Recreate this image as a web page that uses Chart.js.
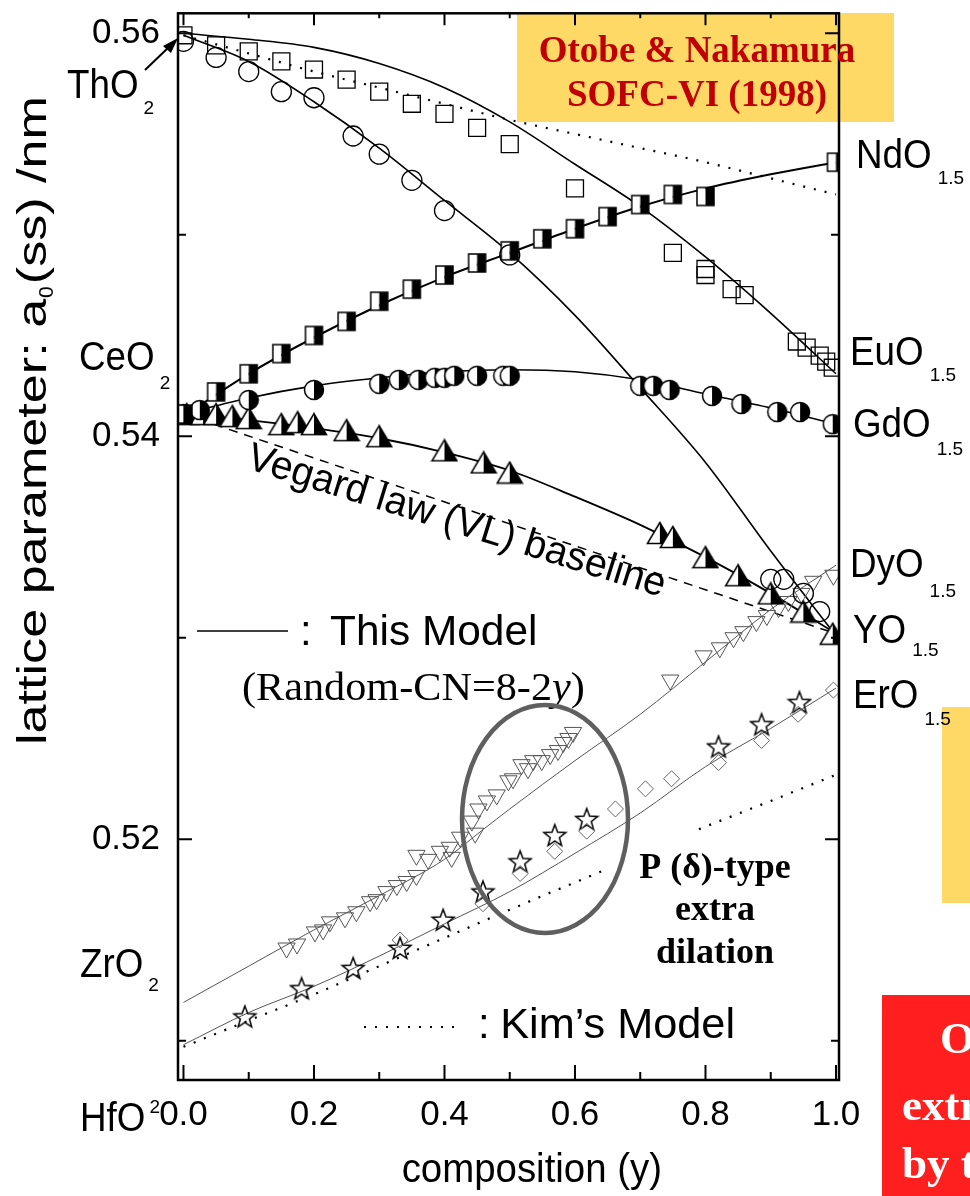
<!DOCTYPE html>
<html>
<head>
<meta charset="utf-8">
<script src="https://cdn.jsdelivr.net/npm/chart.js@4.4.1/dist/chart.umd.min.js"></script>
<style>
    html, body { margin: 0; padding: 0; background: #fff; }
    #c { display: block; }
</style>
</head>
<body>
<canvas id="c" width="970" height="1196"></canvas>
<script>
// 坐标轴刻度
const xTickValues = [0, 0.1, 0.2, 0.3, 0.4, 0.5, 0.6, 0.7, 0.8, 0.9, 1.0];
const xTickLabels = ["0.0", "", "0.2", "", "0.4", "", "0.6", "", "0.8", "", "1.0"];
const yTickValues = [0.51, 0.52, 0.53, 0.54, 0.55, 0.56];
const yTickLabels = ["", "0.52", "", "0.54", "", "0.56"];

// 模型曲线的 x 网格
const modelX = [0, 0.1, 0.2, 0.3, 0.4, 0.5, 0.6, 0.7, 0.8, 0.9, 1.0];

// ThO2-EuO1.5 (open squares)
const thEuX = [0, 0.05, 0.1, 0.15, 0.2, 0.25, 0.3, 0.35, 0.4, 0.45, 0.5, 0.6, 0.75, 0.8, 0.8, 0.84, 0.86, 0.94, 0.955, 0.975, 0.985, 0.995];
const thEuY = [0.5599, 0.5594, 0.5591, 0.5586, 0.5582, 0.5577, 0.5571, 0.5565, 0.5560, 0.5553, 0.5545, 0.5523, 0.5491, 0.5483, 0.5480, 0.5473, 0.5470, 0.5447, 0.5444, 0.5440, 0.5437, 0.5434];
const thEuModel = [0.5600, 0.5597, 0.5593, 0.5585, 0.5573, 0.5556, 0.5535, 0.5514, 0.5489, 0.5461, 0.5431];
const thEuKim = [0.5599, 0.5590, 0.5581, 0.5573, 0.5565, 0.5557, 0.5550, 0.5543, 0.5536, 0.5528, 0.5520];

// ThO2-YO1.5 (open circles)
const thYX = [0, 0.05, 0.1, 0.15, 0.2, 0.26, 0.3, 0.35, 0.4, 0.5, 0.9, 0.92, 0.95, 0.975];
const thYY = [0.5596, 0.5588, 0.5581, 0.5571, 0.5568, 0.5549, 0.5540, 0.5527, 0.5512, 0.5490, 0.5329, 0.5329, 0.5322, 0.5313];
const thYModel = [0.5599, 0.5586, 0.5566, 0.5543, 0.5517, 0.5491, 0.5460, 0.5424, 0.5387, 0.5343, 0.5301];

// CeO2-NdO1.5 (half squares)
const ceNdX = [0, 0.05, 0.1, 0.15, 0.2, 0.25, 0.3, 0.35, 0.4, 0.45, 0.5, 0.55, 0.6, 0.65, 0.7, 0.75, 0.8, 1.0];
const ceNdY = [0.5411, 0.5422, 0.5431, 0.5441, 0.5450, 0.5457, 0.5467, 0.5473, 0.5480, 0.5486, 0.5492, 0.5498, 0.5503, 0.5509, 0.5515, 0.5520, 0.5519, 0.5536];
const ceNdModel = [0.5410, 0.5431, 0.5449, 0.5465, 0.5479, 0.5491, 0.5503, 0.5514, 0.5523, 0.5530, 0.5536];

// CeO2-GdO1.5 (half circles)
const ceGdX = [0, 0.025, 0.1, 0.2, 0.3, 0.33, 0.36, 0.385, 0.4, 0.415, 0.45, 0.49, 0.5, 0.7, 0.72, 0.745, 0.81, 0.855, 0.91, 0.945, 0.995];
const ceGdY = [0.5411, 0.5413, 0.5418, 0.5423, 0.5426, 0.5428, 0.5428, 0.5429, 0.5429, 0.5430, 0.5430, 0.5430, 0.5430, 0.5425, 0.5425, 0.5423, 0.5420, 0.5416, 0.5412, 0.5412, 0.5406];
const ceGdModel = [0.5411, 0.5419, 0.5425, 0.5429, 0.5432, 0.5433, 0.5432, 0.5428, 0.5421, 0.5414, 0.5406];

// CeO2-YO1.5 (half triangles)
const ceYX = [0.005, 0.03, 0.05, 0.075, 0.1, 0.15, 0.175, 0.2, 0.25, 0.3, 0.4, 0.46, 0.5, 0.73, 0.75, 0.8, 0.85, 0.9, 0.95, 0.995];
const ceYY = [0.5411, 0.5411, 0.5411, 0.5410, 0.5409, 0.5406, 0.5407, 0.5406, 0.5403, 0.5400, 0.5393, 0.5387, 0.5382, 0.5352, 0.5350, 0.5340, 0.5331, 0.5322, 0.5313, 0.5302];
const ceYModel = [0.5411, 0.5408, 0.5404, 0.5399, 0.5392, 0.5383, 0.5370, 0.5356, 0.5340, 0.5322, 0.5302];

// Vegard law baseline (CeO2 -> YO1.5)
const vegardX = [0, 1.0];
const vegardY = [0.5411, 0.5302];

// ZrO2-DyO1.5 (inverted triangles)
const zrDyX = [0.158, 0.174, 0.2015, 0.214, 0.2245, 0.2475, 0.265, 0.286, 0.296, 0.311, 0.327, 0.342, 0.357, 0.357, 0.375, 0.393, 0.408, 0.411, 0.424, 0.442, 0.447, 0.452, 0.465, 0.48, 0.498, 0.505, 0.518, 0.528, 0.536, 0.549, 0.562, 0.574, 0.582, 0.59, 0.597, 0.746, 0.797, 0.822, 0.843, 0.858, 0.878, 0.894, 0.912, 0.927, 0.947, 0.965, 0.996];
const zrDyY = [0.5146, 0.5148, 0.5154, 0.5155, 0.5159, 0.5161, 0.5164, 0.5169, 0.5170, 0.5174, 0.5177, 0.5179, 0.5182, 0.5192, 0.5190, 0.5194, 0.5196, 0.5191, 0.5201, 0.5209, 0.5203, 0.5215, 0.5219, 0.5222, 0.5229, 0.5230, 0.5237, 0.5235, 0.5239, 0.5239, 0.5242, 0.5244, 0.5248, 0.5250, 0.5253, 0.5279, 0.5291, 0.5295, 0.5300, 0.5303, 0.5308, 0.5311, 0.5315, 0.5318, 0.5322, 0.5328, 0.5331];
const zrDyModelX = [0, 0.1, 0.2, 0.3, 0.4, 0.46, 0.5, 0.6, 0.7, 0.8, 0.9, 1.0];
const zrDyModel = [0.5119, 0.5137, 0.5155, 0.5172, 0.5190, 0.5205, 0.5215, 0.5239, 0.5262, 0.5288, 0.5314, 0.5336];

// HfO2-ErO1.5 (stars) and ZrO2-ErO1.5 (diamonds)
const hfErX = [0.094, 0.181, 0.26, 0.332, 0.398, 0.459, 0.516, 0.569, 0.618, 0.82, 0.886, 0.944];
const hfErY = [0.5112, 0.5126, 0.5136, 0.5146, 0.5160, 0.5174, 0.5189, 0.5202, 0.5210, 0.5246, 0.5257, 0.5268];
const zrErX = [0.332, 0.459, 0.516, 0.569, 0.618, 0.662, 0.708, 0.748, 0.82, 0.886, 0.942, 0.996];
const zrErY = [0.5150, 0.5168, 0.5183, 0.5194, 0.5204, 0.5215, 0.5225, 0.5230, 0.5238, 0.5249, 0.5262, 0.5274];
const erModel = [0.5098, 0.5114, 0.5127, 0.5142, 0.5158, 0.5174, 0.5193, 0.5213, 0.5236, 0.5255, 0.5275];

// Kim's model (HfO2-ErO1.5), gap where the curve is not drawn
const hfKimX = [0, 0.1, 0.2, 0.3, 0.4, 0.5, 0.64, 0.71, 0.79, 0.9, 1.0];
const hfKimY = [0.5097, 0.5110, 0.5123, 0.5137, 0.5151, 0.5165, 0.5184, null, 0.5205, 0.5219, 0.5232];

const SANS = '"Liberation Sans", Arial, sans-serif';
const SERIF = '"Liberation Serif", "Times New Roman", serif';

function pts(xs, ys) {
    return xs.map((x, i) => ({ x: x, y: ys[i] }));
}

// 自定义标记：半填充方块/圆/三角形和五角星
function markerCanvas(w, h, draw) {
    const c = document.createElement("canvas");
    c.width = w;
    c.height = h;
    draw(c.getContext("2d"), w, h);
    return c;
}

const halfSquare = markerCanvas(21, 22, (g) => {
    g.fillStyle = "#fff";
    g.fillRect(2, 2, 8.5, 18);
    g.fillStyle = "#000";
    g.fillRect(10.5, 2, 8.5, 18);
    g.strokeStyle = "#000";
    g.lineWidth = 1.5;
    g.strokeRect(2, 2, 17, 18);
});

const halfCircle = markerCanvas(22, 22, (g) => {
    g.beginPath();
    g.arc(11, 11, 9.5, 0, Math.PI * 2);
    g.fillStyle = "#fff";
    g.fill();
    g.beginPath();
    g.arc(11, 11, 9.5, -Math.PI / 2, Math.PI / 2);
    g.closePath();
    g.fillStyle = "#000";
    g.fill();
    g.beginPath();
    g.arc(11, 11, 9.5, 0, Math.PI * 2);
    g.strokeStyle = "#000";
    g.lineWidth = 1.5;
    g.stroke();
});

const halfTriangle = markerCanvas(28, 24, (g) => {
    g.beginPath();
    g.moveTo(14, 1.5);
    g.lineTo(1.5, 22.5);
    g.lineTo(26.5, 22.5);
    g.closePath();
    g.fillStyle = "#fff";
    g.fill();
    g.beginPath();
    g.moveTo(14, 1.5);
    g.lineTo(14, 22.5);
    g.lineTo(26.5, 22.5);
    g.closePath();
    g.fillStyle = "#000";
    g.fill();
    g.beginPath();
    g.moveTo(14, 1.5);
    g.lineTo(1.5, 22.5);
    g.lineTo(26.5, 22.5);
    g.closePath();
    g.strokeStyle = "#000";
    g.lineWidth = 1.5;
    g.stroke();
});

const openStar = markerCanvas(26, 26, (g) => {
    g.beginPath();
    for (let k = 0; k < 10; k++) {
        const r = k % 2 === 0 ? 11.5 : 4.8;
        const a = -Math.PI / 2 + (k * Math.PI) / 5;
        const px = 13 + r * Math.cos(a);
        const py = 14 + r * Math.sin(a);
        if (k === 0) g.moveTo(px, py);
        else g.lineTo(px, py);
    }
    g.closePath();
    g.strokeStyle = "#000";
    g.lineWidth = 1.5;
    g.stroke();
});

function markerSet(data, style, radius, extra) {
    return Object.assign({
        data: data,
        pointStyle: style,
        pointRadius: radius,
        pointBackgroundColor: "rgba(0,0,0,0)",
        pointBorderColor: "#000",
        pointBorderWidth: 1.3,
        showLine: false,
        order: 1,
    }, extra || {});
}

function lineSet(data, color, width, dash, extra) {
    return Object.assign({
        data: data,
        showLine: true,
        pointRadius: 0,
        borderColor: color,
        borderWidth: width,
        borderDash: dash,
        cubicInterpolationMode: "monotone",
        spanGaps: false,
        order: 2,
    }, extra || {});
}

const datasets = [
    markerSet(pts(thEuX, thEuY), "rect", 12),
    markerSet(pts(thYX, thYY), "circle", 10),
    markerSet(pts(ceNdX, ceNdY), halfSquare, 10),
    markerSet(pts(ceGdX, ceGdY), halfCircle, 10),
    markerSet(pts(ceYX, ceYY), halfTriangle, 10),
    markerSet(pts(zrDyX, zrDyY), "triangle", 10, { pointRotation: 180, pointBorderColor: "#555", pointBorderWidth: 1 }),
    markerSet(pts(zrErX, zrErY), "rectRot", 8, { pointBorderColor: "#666", pointBorderWidth: 1 }),
    markerSet(pts(hfErX, hfErY), openStar, 10),
    lineSet(pts(modelX, thEuModel), "#000", 1.6, []),
    lineSet(pts(modelX, thEuKim), "#000", 2.2, [2, 9]),
    lineSet(pts(modelX, thYModel), "#000", 1.6, []),
    lineSet(pts(modelX, ceNdModel), "#000", 2, []),
    lineSet(pts(modelX, ceGdModel), "#000", 1.6, []),
    lineSet(pts(modelX, ceYModel), "#000", 1.8, []),
    lineSet(pts(vegardX, vegardY), "#000", 1.5, [9, 7]),
    lineSet(pts(zrDyModelX, zrDyModel), "#555", 1, []),
    lineSet(pts(modelX, erModel), "#555", 1, []),
    lineSet(pts(hfKimX, hfKimY), "#000", 2.2, [2, 9]),
];

// 坐标框与向内刻度
const framePlugin = {
    id: "frame",
    afterDatasetsDraw(chart) {
        const { ctx, chartArea: a, scales } = chart;
        ctx.save();
        ctx.strokeStyle = "#000";
        ctx.lineWidth = 2.5;
        ctx.strokeRect(a.left, a.top, a.right - a.left, a.bottom - a.top);
        ctx.lineWidth = 2;
        ctx.beginPath();
        xTickValues.forEach((v, i) => {
            const px = scales.x.getPixelForValue(v);
            const len = xTickLabels[i] ? 15 : 8;
            ctx.moveTo(px, a.bottom);
            ctx.lineTo(px, a.bottom - len);
            ctx.moveTo(px, a.top);
            ctx.lineTo(px, a.top + len - 3);
        });
        yTickValues.forEach((v, i) => {
            const py = scales.y.getPixelForValue(v);
            const len = yTickLabels[i] ? 14 : 8;
            ctx.moveTo(a.left, py);
            ctx.lineTo(a.left + len, py);
            ctx.moveTo(a.right, py);
            ctx.lineTo(a.right - len, py);
        });
        ctx.stroke();
        ctx.restore();
    },
};

function text(ctx, s, x, y, font, opts) {
    const o = opts || {};
    ctx.save();
    ctx.font = font;
    ctx.fillStyle = o.color || "#000";
    ctx.textAlign = o.align || "left";
    ctx.textBaseline = "alphabetic";
    ctx.translate(x, y);
    if (o.rotate) ctx.rotate(o.rotate);
    ctx.scale(o.sx || 1, 1);
    ctx.fillText(s, 0, 0);
    const w = ctx.measureText(s).width * (o.sx || 1);
    ctx.restore();
    return w;
}

// 化学式：主体 + 下标
function chem(ctx, main, sub, x, y, subDx, subY) {
    const w = text(ctx, main, x, y, "40px " + SANS, { sx: 0.92 });
    text(ctx, sub, x + w + subDx, subY, "19px " + SANS);
}

const annotPlugin = {
    id: "annot",
    afterDraw(chart) {
        const ctx = chart.ctx;

        // 左侧端元标签
        chem(ctx, "ThO", "2", 67, 98, 5, 114);
        chem(ctx, "CeO", "2", 79, 370, 5, 389);
        chem(ctx, "ZrO", "2", 80, 977, 5, 991);
        chem(ctx, "HfO", "2", 80, 1131, 4, 1113);

        // ThO2 箭头
        ctx.save();
        ctx.strokeStyle = "#000";
        ctx.fillStyle = "#000";
        ctx.lineWidth = 2;
        ctx.beginPath();
        ctx.moveTo(145, 70);
        ctx.lineTo(170, 46);
        ctx.stroke();
        ctx.beginPath();
        ctx.moveTo(178, 38);
        ctx.lineTo(163, 46);
        ctx.lineTo(171, 53);
        ctx.closePath();
        ctx.fill();
        ctx.restore();

        // 右侧端元标签
        chem(ctx, "NdO", "1.5", 856, 168, 6, 184);
        chem(ctx, "EuO", "1.5", 850, 365, 6, 381);
        chem(ctx, "GdO", "1.5", 853, 437, 6, 455);
        chem(ctx, "DyO", "1.5", 850, 577, 6, 597);
        chem(ctx, "YO", "1.5", 853, 643, 6, 656);
        chem(ctx, "ErO", "1.5", 853, 708, 6, 725);

        // Vegard 标注
        text(ctx, "Vegard law (VL) baseline", 245, 468, "40px " + SANS, { rotate: (17.2 * Math.PI) / 180, sx: 0.98 });

        // 图例：This Model
        ctx.save();
        ctx.strokeStyle = "#000";
        ctx.lineWidth = 1.5;
        ctx.beginPath();
        ctx.moveTo(197, 631);
        ctx.lineTo(288, 631);
        ctx.stroke();
        ctx.restore();
        text(ctx, ":", 300, 645, "42px " + SANS);
        text(ctx, "This Model", 330, 645, "42px " + SANS, { sx: 1.01 });
        let wx = 242;
        wx += text(ctx, "(Random-CN=8-2", wx, 700, "41px " + SERIF, { sx: 1.03 });
        wx += text(ctx, "y", wx, 700, "italic 41px " + SERIF, { sx: 1.03 });
        text(ctx, ")", wx, 700, "41px " + SERIF, { sx: 1.03 });

        // 图例：Kim's Model
        ctx.save();
        ctx.strokeStyle = "#000";
        ctx.lineWidth = 2.2;
        ctx.setLineDash([2, 9]);
        ctx.beginPath();
        ctx.moveTo(364, 1027);
        ctx.lineTo(458, 1027);
        ctx.stroke();
        ctx.restore();
        text(ctx, ":", 478, 1038, "42px " + SANS);
        text(ctx, "Kim\u2019s Model", 735, 1038, "42px " + SANS, { align: "right", sx: 1.03 });

        // 椭圆
        ctx.save();
        ctx.strokeStyle = "#5f5f5f";
        ctx.lineWidth = 4.5;
        ctx.beginPath();
        ctx.ellipse(545, 819, 83, 114, 0, 0, Math.PI * 2);
        ctx.stroke();
        ctx.restore();

        text(ctx, "P (\u03b4)-type", 715, 878, "bold 36px " + SERIF, { align: "center" });
        text(ctx, "extra", 715, 920, "bold 36px " + SERIF, { align: "center" });
        text(ctx, "dilation", 715, 963, "bold 36px " + SERIF, { align: "center" });

        // 坐标轴标题
        text(ctx, "composition (y)", 662, 1182, "40px " + SANS, { align: "right", sx: 0.96 });
        ctx.save();
        ctx.translate(46, 745);
        ctx.rotate(-Math.PI / 2);
        ctx.font = "41px " + SANS;
        const wa = ctx.measureText("lattice parameter: a").width;
        const wb = ctx.measureText("(ss) /nm").width;
        ctx.font = "21px " + SANS;
        const w0 = ctx.measureText("0").width;
        const fit = (650 - w0 - 4) / (wa + wb);
        let ty = 0;
        ty += text(ctx, "lattice parameter: a", ty, 0, "41px " + SANS, { sx: fit });
        text(ctx, "0", ty + 1, 7, "21px " + SANS);
        ty += w0 + 3;
        text(ctx, "(ss) /nm", ty, 0, "41px " + SANS, { sx: fit });
        ctx.restore();

        // 幻灯片上的叠加色块
        ctx.save();
        ctx.globalCompositeOperation = "multiply";
        ctx.fillStyle = "#ffd966";
        ctx.fillRect(517, 13, 377, 109);
        ctx.fillRect(942, 707, 28, 196);
        ctx.restore();
        text(ctx, "Otobe & Nakamura", 697, 62, "bold 37px " + SERIF, { align: "center", color: "#c00000" });
        text(ctx, "SOFC-VI (1998)", 697, 106, "bold 37px " + SERIF, { align: "center", color: "#c00000" });

        ctx.save();
        ctx.fillStyle = "#ff1f1f";
        ctx.fillRect(882, 995, 88, 201);
        ctx.beginPath();
        ctx.rect(882, 995, 88, 201);
        ctx.clip();
        text(ctx, "Observed", 940, 1053, "bold 45px " + SERIF, { color: "#fff" });
        text(ctx, "extra dilation", 902, 1120, "bold 45px " + SERIF, { color: "#fff" });
        text(ctx, "by the model", 902, 1178, "bold 45px " + SERIF, { color: "#fff" });
        ctx.restore();
    },
};

new Chart(document.getElementById("c"), {
    type: "scatter",
    data: { datasets: datasets },
    options: {
        responsive: false,
        animation: false,
        events: [],
        layout: { padding: { left: 0, top: 8, right: 131, bottom: 0 } },
        plugins: { legend: { display: false }, tooltip: { enabled: false } },
        scales: {
            x: {
                type: "linear",
                min: -0.0084,
                max: 1.0046,
                grid: { display: false, drawTicks: false },
                border: { display: false },
                afterBuildTicks: (s) => { s.ticks = xTickValues.map((v) => ({ value: v })); },
                afterFit: (s) => {
                    s.height = 116;
                    s.paddingLeft = s.paddingRight = s.paddingTop = s.paddingBottom = 0;
                },
                ticks: {
                    autoSkip: false,
                    maxRotation: 0,
                    padding: 14,
                    color: "#000",
                    font: { family: SANS, size: 35 },
                    callback: (v, i) => xTickLabels[i],
                },
            },
            y: {
                type: "linear",
                min: 0.50805,
                max: 0.56099,
                grid: { display: false, drawTicks: false },
                border: { display: false },
                afterBuildTicks: (s) => { s.ticks = yTickValues.map((v) => ({ value: v })); },
                afterFit: (s) => {
                    s.width = 178;
                    s.paddingLeft = s.paddingRight = s.paddingTop = s.paddingBottom = 0;
                },
                ticks: {
                    autoSkip: false,
                    padding: 18,
                    color: "#000",
                    font: { family: SANS, size: 35 },
                    callback: (v, i) => yTickLabels[i],
                },
            },
        },
    },
    plugins: [framePlugin, annotPlugin],
});
</script>
</body>
</html>
